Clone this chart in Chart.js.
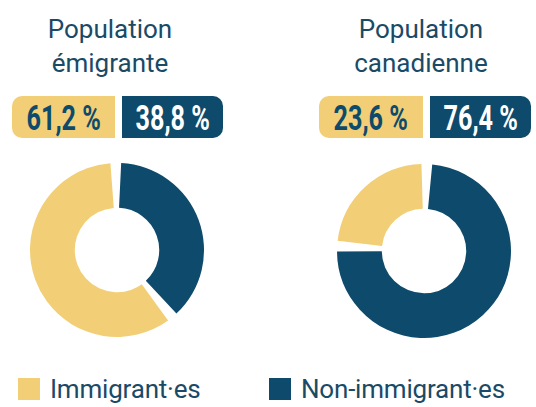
<!DOCTYPE html>
<html lang="fr">
<head>
<meta charset="utf-8">
<script src="https://cdn.jsdelivr.net/npm/chart.js@4.4.1/dist/chart.umd.min.js"></script>
<style>
    html, body {
        margin: 0;
        padding: 0;
        background: #fff;
    }
    #wrap {
        position: relative;
        width: 536px;
        height: 407px;
        overflow: hidden;
        font-family: Roboto, "Noto Sans", sans-serif;
        color: #1a4a66;
    }
    .title {
        position: absolute;
        width: 220px;
        text-align: center;
        font-size: 26px;
        line-height: 34px;
        font-weight: 400;
    }
    .box {
        position: absolute;
        top: 96px;
        height: 42px;
        display: flex;
        align-items: center;
        justify-content: center;
        font-size: 35px;
        font-weight: 700;
    }
    .box span {
        display: inline-block;
        transform: scaleX(0.72);
        white-space: nowrap;
        margin-top: 2px;
    }
    .box.imm {
        background: #f2cf77;
        color: #0d4a6b;
        border-radius: 10px 0 0 10px;
    }
    .box.non {
        background: #0d4a6b;
        color: #fff;
        border-radius: 0 10px 10px 0;
    }
    .donut {
        position: absolute;
        width: 174px;
        height: 174px;
    }
    .legend {
        position: absolute;
        top: 372px;
        display: flex;
        align-items: center;
        font-size: 26px;
        line-height: 34px;
        font-weight: 400;
        letter-spacing: -0.2px;
        white-space: nowrap;
    }
    .legend i {
        display: inline-block;
        width: 22px;
        height: 22px;
        margin-right: 10px;
    }
</style>
</head>
<body>
<div id="wrap"></div>
<script>
// Données
const titles = [['Population', 'émigrante'], ['Population', 'canadienne']];
const categories = ['Immigrant·es', 'Non-immigrant·es'];
const immigrants = [61.2, 23.6];
const nonImmigrants = [38.8, 76.4];
const colors = ['#f2cf77', '#0d4a6b'];

// Mise en page (px)
const titleCenters = [110, 421];
const boxLefts = [[12, 103, 122, 101], [319, 104, 430, 101]];
const donutCenters = [[117, 250], [424, 251]];
const legendLefts = [18, 269];

const wrap = document.getElementById('wrap');

function fmt(v) {
    return v.toFixed(1).replace('.', ',') + ' %';
}

titles.forEach(function(lines, i) {
    const t = document.createElement('div');
    t.className = 'title';
    t.style.left = (titleCenters[i] - 110) + 'px';
    t.style.top = '12px';
    t.innerHTML = lines.join('<br>');
    wrap.appendChild(t);

    const b = boxLefts[i];
    const imm = document.createElement('div');
    imm.className = 'box imm';
    imm.style.left = b[0] + 'px';
    imm.style.width = b[1] + 'px';
    imm.innerHTML = '<span>' + fmt(immigrants[i]) + '</span>';
    wrap.appendChild(imm);

    const non = document.createElement('div');
    non.className = 'box non';
    non.style.left = b[2] + 'px';
    non.style.width = b[3] + 'px';
    non.innerHTML = '<span>' + fmt(nonImmigrants[i]) + '</span>';
    wrap.appendChild(non);

    const holder = document.createElement('div');
    holder.className = 'donut';
    holder.style.left = (donutCenters[i][0] - 87) + 'px';
    holder.style.top = (donutCenters[i][1] - 87) + 'px';
    const canvas = document.createElement('canvas');
    holder.appendChild(canvas);
    wrap.appendChild(holder);

    // le segment non-immigrant commence en haut, sens horaire
    new Chart(canvas.getContext('2d'), {
        type: 'doughnut',
        data: {
            labels: [categories[1], categories[0]],
            datasets: [{
                data: [nonImmigrants[i], immigrants[i]],
                backgroundColor: [colors[1], colors[0]],
                borderWidth: 0,
                spacing: 5,
                hoverOffset: 0
            }]
        },
        options: {
            responsive: true,
            maintainAspectRatio: false,
            animation: false,
            cutout: '47%',
            layout: { padding: 0 },
            plugins: {
                legend: { display: false },
                tooltip: { enabled: false }
            }
        }
    });
});

// Légende
categories.forEach(function(label, i) {
    const l = document.createElement('div');
    l.className = 'legend';
    l.style.left = legendLefts[i] + 'px';
    l.innerHTML = '<i style="background:' + colors[i] + '"></i>' + label;
    wrap.appendChild(l);
});
</script>
</body>
</html>
